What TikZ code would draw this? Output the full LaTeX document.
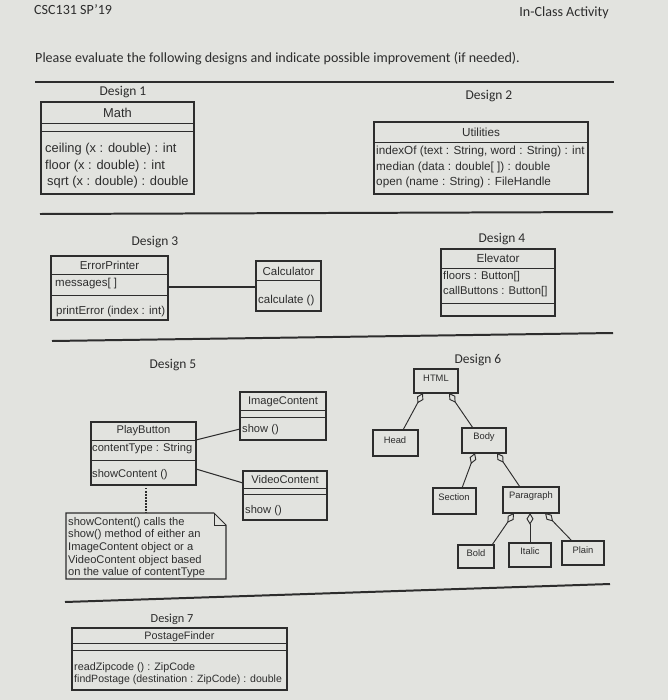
\documentclass[tikz,border=0pt]{standalone}
\usepackage{fontspec}
\setmainfont{Carlito}
\newfontfamily\arial{Liberation Sans}
\usetikzlibrary{fit,calc,arrows.meta}
\definecolor{bg}{RGB}{226,227,223}
\definecolor{ink}{RGB}{45,45,45}
\begin{document}
\begin{tikzpicture}[x=0.03cm,y=-0.03cm,
  cls/.style={draw=ink, line width=0.9pt, inner sep=0pt, outer sep=0pt},
  area/.style={inner sep=0pt, outer sep=0pt},
  sep/.style={draw=ink, line width=0.8pt},
  rulethin/.style={draw=ink, line width=1.1pt},
  rulethick/.style={draw=ink, line width=1.7pt},
  assoc/.style={draw=ink, line width=0.9pt},
  notelink/.style={draw=ink, line width=0.9pt, dash pattern=on 1.2pt off 1.4pt},
  agg/.style={draw=ink, line width=0.8pt, -{Diamond[open, length=10pt, width=6pt, line width=0.8pt]}},
  hd/.style={font=\fontsize{12}{14}\selectfont, text=ink, inner sep=0pt},
  dl/.style={font=\fontsize{#1}{13}\selectfont, text=ink, inner sep=0pt},
  u/.style={font=\arial\fontsize{#1}{#1}\selectfont, text=ink, inner sep=0pt}
]
\useasboundingbox (0,0) rectangle (668,700);
\fill[bg] (0,0) rectangle (668,700);

% header
\node[hd, anchor=mid west] (course) at (34,12) {CSC131 SP'19};
\node[hd, anchor=mid east] (activity) at (609,14) {In-Class Activity};
\node[hd, anchor=mid west] (prompt) at (35,60) {Please evaluate the following designs and indicate possible improvement (if needed).};

% rules
\draw[rulethin] (35,82) -- (614,82);
\draw[rulethick] (40,214) -- (613,212);
\draw[rulethick] (52,341) -- (613,333);
\draw[rulethick] (65,602) -- (610,584);

% Design 1
\node[dl=11.5] (d1) at (123,92) {Design 1};
\node[cls, fit={(41,102)(194,194)}] (math) {};
\draw[sep] (math.west |- 0,123) -- (math.east |- 0,123);
\draw[sep] (math.west |- 0,131) -- (math.east |- 0,131);
\node[u=11] (mathname) at (117.5,113) {Math};
\node[u=11, anchor=mid west] (m1) at (45,150) {ceiling (x : double) : int};
\node[u=11, anchor=mid west] (m2) at (45,167) {floor (x : double) : int};
\node[u=11, anchor=mid west] (m3) at (47,183) {sqrt (x : double) : double};

% Design 2
\node[dl=11.5] (d2) at (489,96) {Design 2};
\node[cls, fit={(374,122)(588,194)}] (util) {};
\draw[sep] (util.west |- 0,142) -- (util.east |- 0,142);
\node[u=10] (utilname) at (481,132) {Utilities};
\node[u=10, anchor=mid west] (u1) at (376,152) {indexOf (text : String, word : String) : int};
\node[u=10, anchor=mid west] (u2) at (376,168) {median (data : double[ ]) : double};
\node[u=10, anchor=mid west] (u3) at (376,183) {open (name : String) : FileHandle};

% Design 3
\node[dl=11.5] (d3) at (155,242) {Design 3};
\node[cls, fit={(51,256)(168,320)}] (err) {};
\draw[sep] (err.west |- 0,274) -- (err.east |- 0,274);
\draw[sep] (err.west |- 0,295) -- (err.east |- 0,295);
\node[u=9.8] (errname) at (109.5,265.5) {ErrorPrinter};
\node[u=9.8, anchor=mid west] (e1) at (55,284) {messages[ ]};
\node[u=9.8, anchor=mid west] (e2) at (56,312) {printError (index : int)};
\node[cls, fit={(256,261)(321,311)}] (calc) {};
\draw[sep] (calc.west |- 0,280) -- (calc.east |- 0,280);
\node[u=9.8] (calcname) at (288.5,271) {Calculator};
\node[u=9.8, anchor=mid west] (c1) at (258,301) {calculate ()};
\draw[assoc] (err.east |- 0,287) -- (calc.west |- 0,287);

% Design 4
\node[dl=11.5] (d4) at (502,239) {Design 4};
\node[cls, fit={(441,249)(555,316)}] (elev) {};
\draw[sep] (elev.west |- 0,268) -- (elev.east |- 0,268);
\draw[sep] (elev.west |- 0,303) -- (elev.east |- 0,303);
\node[u=10] (elevname) at (498,258) {Elevator};
\node[u=9.6, anchor=mid west] (v1) at (443,277) {floors : Button[]};
\node[u=9.6, anchor=mid west] (v2) at (443,292) {callButtons : Button[]};

% Design 5
\node[dl=11.5] (d5) at (173,365) {Design 5};
\node[cls, fit={(91,422)(196,485)}] (pb) {};
\draw[sep] (pb.west |- 0,440) -- (pb.east |- 0,440);
\draw[sep] (pb.west |- 0,460) -- (pb.east |- 0,460);
\node[u=9.5] (pbname) at (143.5,431) {PlayButton};
\node[u=9.5, anchor=mid west] (p1) at (92,449) {contentType : String};
\node[u=9.5, anchor=mid west] (p2) at (92,475) {showContent ()};
\node[cls, fit={(240,392)(326,440)}] (ic) {};
\draw[sep] (ic.west |- 0,410) -- (ic.east |- 0,410);
\draw[sep] (ic.west |- 0,417) -- (ic.east |- 0,417);
\node[u=9.5] (icname) at (283,402) {ImageContent};
\node[u=9.5, anchor=mid west] (i1) at (242,430) {show ()};
\node[cls, fit={(243,471)(327,520)}] (vc) {};
\draw[sep] (vc.west |- 0,488) -- (vc.east |- 0,488);
\draw[sep] (vc.west |- 0,494) -- (vc.east |- 0,494);
\node[u=9.5] (vcname) at (285,480) {VideoContent};
\node[u=9.5, anchor=mid west] (w1) at (245,511) {show ()};
\draw[assoc] (pb.east |- 0,440) -- (ic.west |- 0,429);
\draw[assoc] (pb.east |- 0,469) -- (vc.west |- 0,483);
\node[area, fit={(66,513)(226,579)}] (note) {};
\draw[cls] (note.north west) -- ($(note.north east)+(-12,0)$) -- ($(note.north east)+(0,12)$) -- (note.south east) -- (note.south west) -- cycle;
\draw[sep] ($(note.north east)+(-12,0)$) -- ($(note.north east)+(-12,12)$) -- ($(note.north east)+(0,12)$);
\draw[notelink] (pb.south -| 146,0) -- (note.north -| 146,0);
\node[u=9.5, anchor=mid west] (n1) at (68,523) {showContent() calls the};
\node[u=9.5, anchor=mid west] (n2) at (68,535) {show() method of either an};
\node[u=9.5, anchor=mid west] (n3) at (68,548) {ImageContent object or a};
\node[u=9.5, anchor=mid west] (n4) at (68,561) {VideoContent object based};
\node[u=9.5, anchor=mid west] (n5) at (68,573) {on the value of contentType};

% Design 6
\node[dl=11.5] (d6) at (478,360) {Design 6};
\node[cls, fit={(414,369)(458,393)}] (html) {};
\node[u=8] (htmlname) at (436,378) {HTML};
\node[cls, fit={(373,430)(418,456)}] (head) {};
\node[u=8] (headname) at (395,440) {Head};
\node[cls, fit={(462,428)(506,453)}] (body) {};
\node[u=8] (bodyname) at (484,437) {Body};
\node[cls, fit={(433,488)(476,514)}] (section) {};
\node[u=8] (sectionname) at (454,497) {Section};
\node[cls, fit={(503,487)(559,513)}] (para) {};
\node[u=8] (paraname) at (531,496) {Paragraph};
\node[cls, fit={(458,545)(494,568)}] (bold) {};
\node[u=8] (boldname) at (476,553) {Bold};
\node[cls, fit={(509,543)(551,567)}] (italic) {};
\node[u=8] (italicname) at (530,551) {Italic};
\node[cls, fit={(562,541)(604,565)}] (plain) {};
\node[u=8] (plainname) at (583,550) {Plain};
\draw[agg] (head.north -| 403,0) -- (html.south -| 423,0);
\draw[agg] (body.north -| 473,0) -- (html.south -| 449,0);
\draw[agg] (section.north -| 462,0) -- (body.south -| 475,0);
\draw[agg] (para.north -| 520,0) -- (body.south -| 497,0);
\draw[agg] (bold.north -| 492,0) -- (para.south -| 514,0);
\draw[agg] (italic.north -| 530,0) -- (para.south -| 530,0);
\draw[agg] (plain.north -| 572,0) -- (para.south -| 545,0);

% Design 7
\node[dl=10.5] (d7) at (172,619) {Design 7};
\node[cls, fit={(72,628)(287,690)}] (post) {};
\draw[sep] (post.west |- 0,643) -- (post.east |- 0,643);
\draw[sep] (post.west |- 0,650) -- (post.east |- 0,650);
\node[u=9.2] (postname) at (179.5,637) {PostageFinder};
\node[u=9.2, anchor=mid west] (f1) at (74,668) {readZipcode () : ZipCode};
\node[u=9, anchor=mid west] (f2) at (74,680) {findPostage (destination : ZipCode) : double};
\end{tikzpicture}
\end{document}
